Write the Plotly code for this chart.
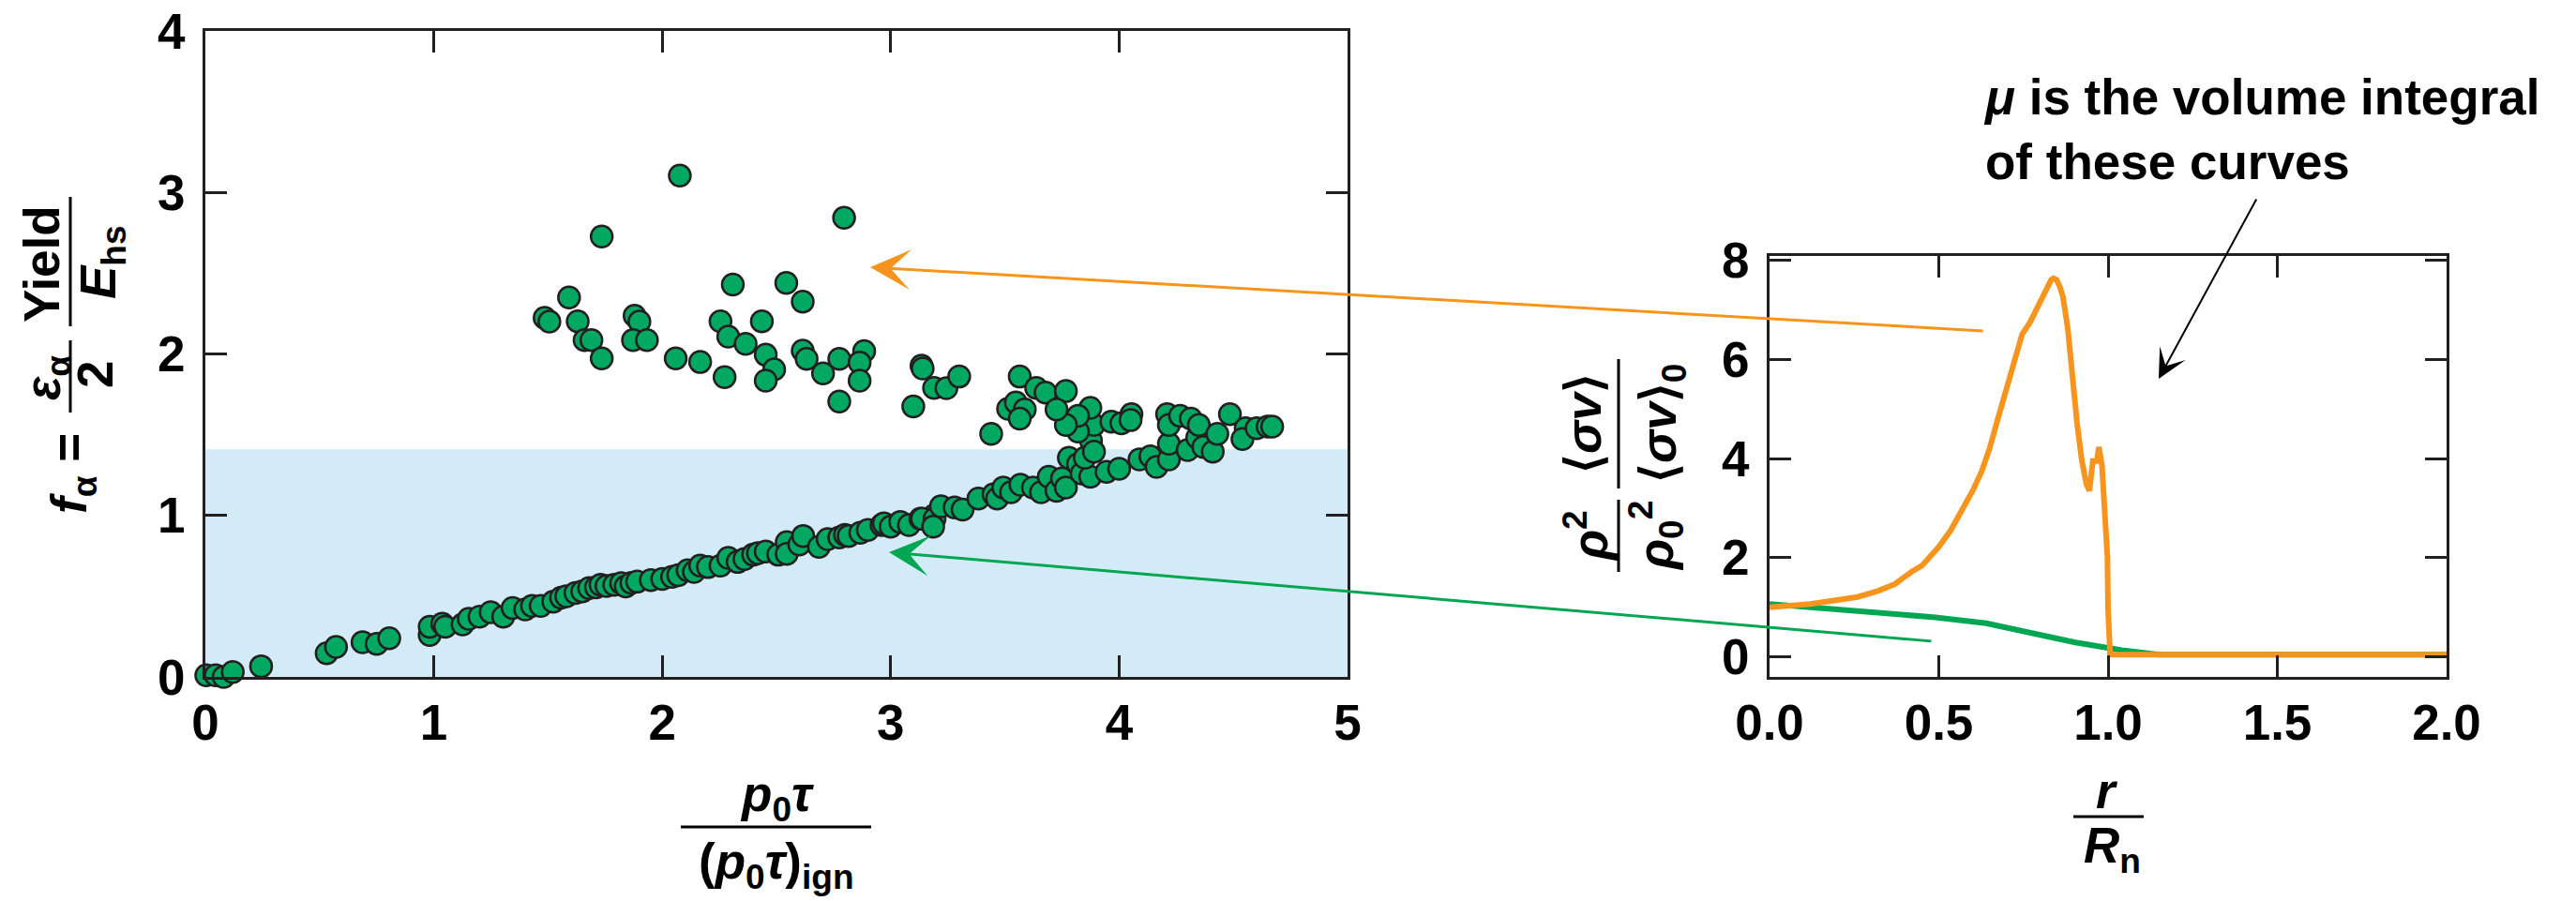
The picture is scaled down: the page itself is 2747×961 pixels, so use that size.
import plotly.graph_objects as go

# ---------------- data ----------------
# left panel: f_alpha vs normalized p0*tau
fa_x = [0.004, 0.045, 0.08, 0.12, 0.244, 0.531, 0.572, 0.688, 0.75, 0.805,
        0.982, 0.982, 1.037, 1.05, 1.126, 1.153, 1.2, 1.249, 1.304, 1.345,
        1.40, 1.43, 1.468, 1.523, 1.557,
        1.58, 1.62, 1.65, 1.68, 1.71, 1.73, 1.756, 1.79, 1.82, 1.84,
        1.865, 1.89, 1.95, 2.0, 2.043, 2.07, 2.111, 2.139, 2.166, 2.2, 2.255,
        2.289, 2.33, 2.36, 2.398, 2.419, 2.453, 2.508, 2.545, 2.545, 2.6,
        2.617, 2.686, 2.724, 2.775, 2.8, 2.816, 2.867, 2.9, 2.96, 2.97, 3.0,
        3.042, 3.08, 3.13, 3.19,
        3.137, 3.192, 3.186, 3.22, 3.28, 3.315, 3.384, 3.45, 3.466, 3.493,
        3.527, 3.568, 3.623, 3.658, 3.692, 3.726, 3.75, 3.767,
        3.78, 3.82, 3.836, 3.874, 3.85, 3.945, 4.0, 4.089, 4.137, 4.164,
        4.218, 4.218, 4.3, 4.342, 4.369, 4.41,
        3.877, 3.89, 3.89, 3.874, 3.82, 3.82, 3.767,
        3.44, 3.514, 3.548, 3.587, 3.565, 3.565, 3.637, 3.678, 3.767, 3.726,
        3.966, 4.01, 4.054, 4.05, 4.21, 4.218, 4.267, 4.314, 4.349, 4.43,
        4.485, 4.554, 4.54, 4.602, 4.65, 4.67,
        2.077, 1.735, 2.796, 2.309, 2.543, 2.615, 1.592, 1.485, 1.506, 1.63,
        1.66, 1.69, 1.735, 1.879, 1.9, 1.872, 1.933, 2.059, 2.166, 2.255,
        2.289, 2.365, 2.273, 2.436, 2.453, 2.49, 2.453, 2.615, 2.632, 2.704,
        2.775, 2.775, 2.884, 2.864, 2.864, 3.135, 3.14, 3.099, 3.19, 3.244,
        3.30]
fa_y = [0.01, 0.01, 0.0, 0.03, 0.066, 0.147, 0.186, 0.215, 0.205, 0.24,
        0.26, 0.31, 0.33, 0.31, 0.325, 0.36, 0.373, 0.40, 0.373, 0.427,
        0.418, 0.44, 0.44, 0.466, 0.49,
        0.50, 0.52, 0.53, 0.55, 0.555, 0.57, 0.563, 0.57, 0.58, 0.56,
        0.582, 0.59, 0.60, 0.607, 0.62, 0.63, 0.66, 0.65, 0.689, 0.68, 0.689,
        0.737, 0.712, 0.73, 0.757, 0.766, 0.776, 0.757, 0.834, 0.762, 0.82,
        0.873, 0.805, 0.853, 0.863, 0.88, 0.873, 0.892, 0.91, 0.94, 0.95, 0.93,
        0.96, 0.94, 0.98, 1.0,
        0.979, 0.979, 0.93, 1.057, 1.05, 1.037, 1.105, 1.13, 1.105, 1.173,
        1.144, 1.19, 1.173, 1.144, 1.24, 1.153, 1.23, 1.173,
        1.357, 1.318, 1.26, 1.24, 1.357, 1.27, 1.289, 1.347, 1.366, 1.30,
        1.347, 1.444, 1.405, 1.482, 1.424, 1.395,
        1.463, 1.395, 1.56, 1.666, 1.52, 1.617, 1.56,
        1.505, 1.66, 1.70, 1.656, 1.60, 1.86, 1.79, 1.76, 1.77, 1.656,
        1.58, 1.57, 1.627, 1.59, 1.627, 1.56, 1.617, 1.60, 1.56, 1.505,
        1.627, 1.54, 1.473, 1.54, 1.55, 1.55,
        3.104, 2.727, 2.843, 2.43, 2.44, 2.324, 2.35, 2.224, 2.20, 2.202,
        2.086, 2.086, 1.972, 2.237, 2.20, 2.086, 2.086, 1.972, 1.95, 2.202,
        2.107, 2.063, 1.856, 2.202, 1.995, 1.904, 1.835, 2.02, 1.97, 1.88,
        1.97, 1.705, 2.018, 1.947, 1.835, 1.927, 1.91, 1.675, 1.79, 1.788,
        1.86]

# right panel: radial profiles
r_orange = [0.0, 0.05, 0.12, 0.2, 0.26, 0.32, 0.37, 0.42, 0.45, 0.5, 0.535,
            0.57, 0.6, 0.626, 0.65, 0.672, 0.69, 0.709, 0.728, 0.746, 0.77,
            0.793, 0.815, 0.832, 0.839, 0.848, 0.858,
            0.867, 0.881, 0.894, 0.908, 0.922, 0.936, 0.945, 0.952, 0.955,
            0.967, 0.973, 0.982, 0.992, 0.998, 1.0, 1.006, 1.3, 1.6, 2.0]
v_orange = [1.0, 1.02, 1.07, 1.15, 1.21, 1.33, 1.47, 1.72, 1.84, 2.22, 2.55,
            2.98, 3.35, 3.73, 4.2, 4.74, 5.15, 5.62, 6.08, 6.5, 6.75,
            7.06, 7.4, 7.6, 7.63, 7.6, 7.45,
            7.25, 6.62, 5.68, 4.74, 3.98, 3.48, 3.35, 3.73, 3.95,
            3.95, 4.23, 3.86, 2.85, 2.03, 0.96, 0.05, 0.05, 0.05, 0.05]
r_green = [0.0, 0.25, 0.49, 0.64, 0.77, 0.9, 1.04, 1.15, 1.3, 2.0]
v_green = [1.07, 0.93, 0.80, 0.68, 0.49, 0.30, 0.14, 0.05, 0.05, 0.05]

x1_ticks = [0, 1, 2, 3, 4, 5]
y1_ticks = [0, 1, 2, 3, 4]
x2_ticks = [0.0, 0.5, 1.0, 1.5, 2.0]
x2_labels = ["0.0", "0.5", "1.0", "1.5", "2.0"]
y2_ticks = [0, 2, 4, 6, 8]
band_top = 1.41

# ---------------- style ----------------
W, H = 2747, 961
FONT = "Liberation Sans, Arial, Helvetica, sans-serif"
INK = "#231f20"
GREEN_M = "#00a862"
GREEN_L = "#00a651"
ORANGE = "#f7941d"
FS = 53


def px(x):
    return x / W


def py(y):
    return 1 - y / H


fig = go.Figure()
fig.add_trace(go.Scatter(
    x=fa_x, y=fa_y, mode="markers", xaxis="x", yaxis="y", cliponaxis=False,
    marker=dict(size=23, color=GREEN_M, line=dict(color=INK, width=2.5)),
    showlegend=False))
fig.add_trace(go.Scatter(
    x=r_green, y=v_green, mode="lines", xaxis="x2", yaxis="y2",
    line=dict(color=GREEN_L, width=6), showlegend=False))
fig.add_trace(go.Scatter(
    x=r_orange, y=v_orange, mode="lines", xaxis="x2", yaxis="y2",
    line=dict(color=ORANGE, width=6), showlegend=False))

axc = dict(showgrid=False, zeroline=False, showline=True, linecolor=INK,
           linewidth=3, mirror="allticks", ticks="inside", ticklen=23,
           tickwidth=3, tickcolor=INK, automargin=False, tickmode="array",
           showticklabels=True, layer="above traces",
           tickfont=dict(family=FONT, size=FS, color="black", weight="bold"))

fig.update_layout(
    template="none",
    width=W, height=H, autosize=False,
    margin=dict(l=0, r=0, t=0, b=0, pad=0, autoexpand=False),
    paper_bgcolor="white", plot_bgcolor="white",
    xaxis=dict(axc, domain=[px(219), px(1437)], range=[0, 5],
               tickvals=x1_ticks, anchor="y"),
    yaxis=dict(axc, domain=[py(722), py(33)], range=[0, 4],
               tickvals=y1_ticks, anchor="x", ticklabelstandoff=8),
    xaxis2=dict(axc, domain=[px(1887), px(2609)], range=[0, 2],
                tickvals=x2_ticks, ticktext=x2_labels, anchor="y2"),
    yaxis2=dict(axc, domain=[py(722), py(273)], range=[-0.4, 8.08],
                tickvals=y2_ticks, anchor="x2", ticklabelstandoff=8),
)

# shaded band
fig.add_shape(type="rect", xref="x", yref="y", x0=x1_ticks[0], x1=x1_ticks[-1],
              y0=0, y1=band_top, fillcolor="#d3ebf7", line_width=0, layer="below")

ann = []
shapes = []


def txt(t, x, y, angle=0, size=FS, xanchor="center", yanchor="middle", align="center"):
    ann.append(dict(text=t, x=px(x), y=py(y), xref="paper", yref="paper",
                    showarrow=False, textangle=angle, xanchor=xanchor,
                    yanchor=yanchor, align=align,
                    font=dict(family=FONT, size=size, color="black", weight="bold")))


def hline(x0, x1, y):
    shapes.append(dict(type="line", xref="paper", yref="paper", x0=px(x0), x1=px(x1),
                       y0=py(y), y1=py(y), line=dict(color="black", width=3)))


def vline(x, y0, y1):
    shapes.append(dict(type="line", xref="paper", yref="paper", x0=px(x), x1=px(x),
                       y0=py(y0), y1=py(y1), line=dict(color="black", width=3)))


# left x title
txt("<i>p</i><sub>0</sub><i>τ</i>", 828, 850)
hline(726, 929, 882)
txt("(<i>p</i><sub>0</sub><i>τ</i>)<sub>ign</sub>", 828, 922)

# left y title (rotated)
txt("<i>f</i><sub>α</sub> =", 78, 505, angle=-90)
txt("<i>ε</i><sub>α</sub>", 49, 403, angle=-90)
vline(75, 363, 440)
txt("2", 101, 400, angle=-90)
txt("Yield", 44, 282, angle=-90)
vline(75, 210, 348)
txt("<i>E</i><sub>hs</sub>", 108, 280, angle=-90)

# right x title
txt("<i>r</i>", 2247, 843)
hline(2211, 2286, 871)
txt("<i>R</i><sub>n</sub>", 2252, 905)

# right y title (rotated)
txt("<i>ρ</i><sup>2</sup>", 1691, 572, angle=-90)
vline(1726, 533, 610)
txt("<i>ρ</i><sub>0</sub><sup>2</sup>", 1765, 572, angle=-90)
txt("⟨<i>σv</i>⟩", 1688, 452, angle=-90)
vline(1726, 383, 521)
txt("⟨<i>σv</i>⟩<sub>0</sub>", 1772, 452, angle=-90)

# note text
txt("<i>μ</i> is the volume integral<br>of these curves", 2113, 72,
    xanchor="left", yanchor="top", align="left")


# arrows
def arrow(tipx, tipy, tailx, taily, color, width, size):
    ann.append(dict(text="", x=px(tipx), y=py(tipy), xref="paper", yref="paper",
                    ax=tailx - tipx, ay=taily - tipy, axref="pixel", ayref="pixel",
                    showarrow=True, arrowhead=3, arrowsize=size, arrowwidth=width,
                    arrowcolor=color, standoff=0, startstandoff=0))


arrow(928, 285, 2116, 353, ORANGE, 3, 2.4)
arrow(948, 589, 2061, 684, GREEN_L, 3, 2.4)
arrow(2302, 404, 2407, 211, "black", 2, 2.6)

fig.update_layout(annotations=ann, shapes=list(fig.layout.shapes) + shapes)

fig.write_html("out.html")
